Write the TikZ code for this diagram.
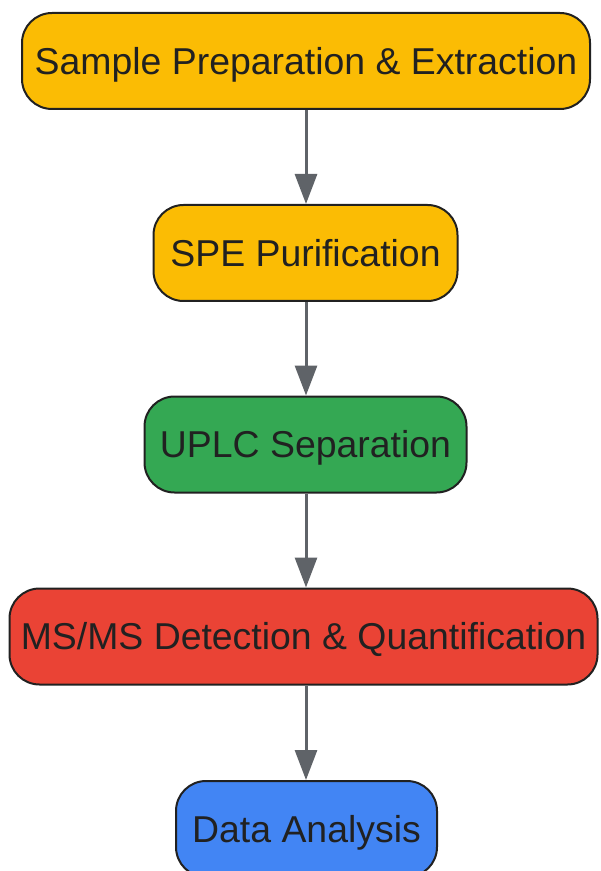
\documentclass[tikz,border=0pt]{standalone}
\usepackage{fontspec}
\setmainfont{Liberation Sans}
\usetikzlibrary{arrows.meta}
\definecolor{cyellow}{HTML}{FBBC04}
\definecolor{cgreen}{HTML}{34A853}
\definecolor{cred}{HTML}{EA4335}
\definecolor{cblue}{HTML}{4285F4}
\definecolor{cborder}{HTML}{212121}
\definecolor{carrow}{HTML}{5F6368}
\begin{document}
\begin{tikzpicture}[x=0.5pt,y=-0.5pt,
  box/.style={draw=cborder, line width=1pt, rounded corners=15pt, inner sep=0pt,
    minimum height=48pt, text=cborder, text height=13.4pt, text depth=0pt,
    font=\fontsize{18.7}{22}\selectfont},
  conn/.style={draw=carrow, line width=1.5pt, -{Triangle[length=15pt,width=11pt]}}]
\useasboundingbox (0,0) rectangle (600,871);
\node[box, fill=cyellow, minimum width=284pt] (a) at (306,61) {Sample Preparation \& Extraction};
\node[box, fill=cyellow, minimum width=152pt] (b) at (305.5,253) {SPE Purification};
\node[box, fill=cgreen, minimum width=161pt] (c) at (305.5,444.5) {UPLC Separation};
\node[box, fill=cred, minimum width=294pt] (d) at (303.5,636.5) {MS/MS Detection \& Quantification};
\node[box, fill=cblue, minimum width=130.5pt] (e) at (306.5,829) {Data Analysis};
\draw[conn] (a.south) -- (a.south |- b.north);
\draw[conn] (a.south |- b.south) -- (a.south |- c.north);
\draw[conn] (a.south |- c.south) -- (a.south |- d.north);
\draw[conn] (a.south |- d.south) -- (a.south |- e.north);
\end{tikzpicture}
\end{document}
